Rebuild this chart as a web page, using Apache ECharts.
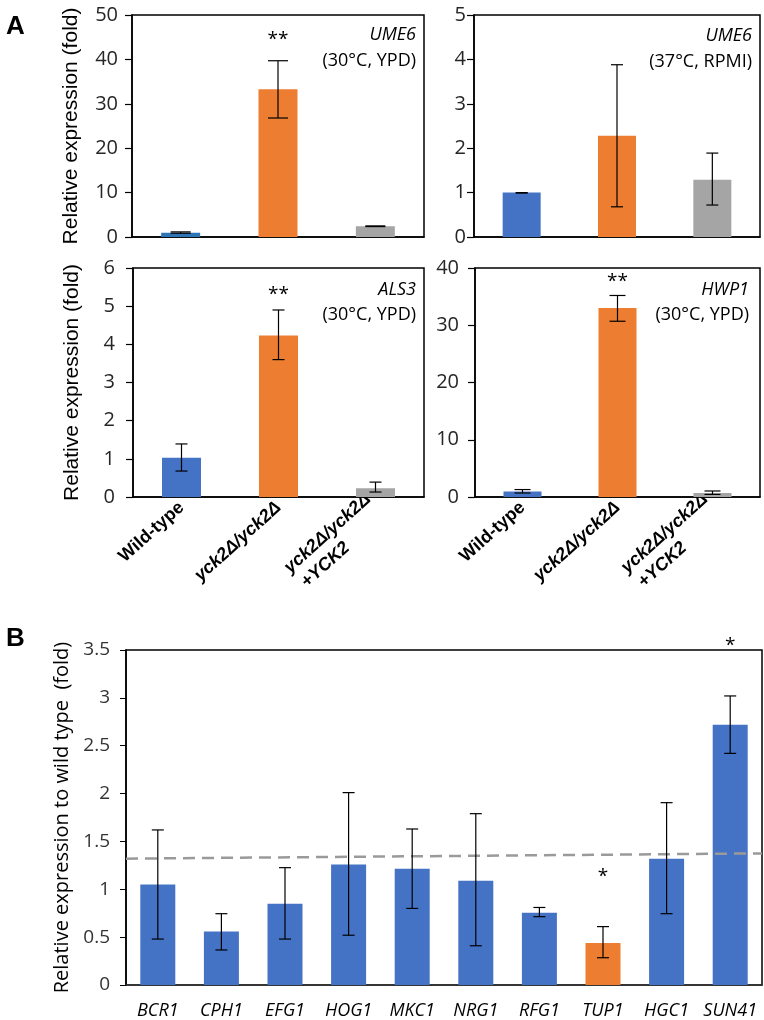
<!DOCTYPE html>
<html>
<head>
<meta charset="utf-8">
<script src="https://cdn.jsdelivr.net/npm/echarts@6/dist/echarts.min.js"></script>
<style>
html,body{margin:0;padding:0;background:#fff;}
#main{width:764px;height:1020px;}
</style>
</head>
<body>
<div id="main"></div>
<script>
// ---------- Panel A data ----------
const strains = ['Wild-type', 'yck2Δ/yck2Δ', 'yck2Δ/yck2Δ\n+YCK2'];
const strainColors = ['#4472C4', '#ED7D31', '#A5A5A5'];

// UME6 (30°C, YPD)
const ume6YpdMean = [0.95, 33.3, 2.4];
const ume6YpdLow  = [0.85, 26.8, 2.35];
const ume6YpdHigh = [1.15, 39.7, 2.5];
const ume6YpdSig  = ['', '**', ''];

// UME6 (37°C, RPMI)
const ume6RpmiMean = [1.0, 2.28, 1.29];
const ume6RpmiLow  = [0.99, 0.68, 0.72];
const ume6RpmiHigh = [1.0, 3.88, 1.89];
const ume6RpmiSig  = ['', '', ''];

// ALS3 (30°C, YPD)
const als3Mean = [1.03, 4.23, 0.23];
const als3Low  = [0.68, 3.6, 0.13];
const als3High = [1.39, 4.9, 0.39];
const als3Sig  = ['', '**', ''];

// HWP1 (30°C, YPD)
const hwp1Mean = [0.95, 33.0, 0.7];
const hwp1Low  = [0.7, 30.7, 0.45];
const hwp1High = [1.3, 35.2, 1.05];
const hwp1Sig  = ['', '**', ''];

const yTicksA = [
  {max: 50, interval: 10},
  {max: 5, interval: 1},
  {max: 6, interval: 1},
  {max: 40, interval: 10}
];

// ---------- Panel B data ----------
const genes = ['BCR1','CPH1','EFG1','HOG1','MKC1','NRG1','RFG1','TUP1','HGC1','SUN41'];
const geneMean = [1.05, 0.56, 0.85, 1.26, 1.215, 1.09, 0.755, 0.44, 1.32, 2.72];
const geneLow  = [0.48, 0.366, 0.48, 0.52, 0.80, 0.41, 0.714, 0.285, 0.745, 2.42];
const geneHigh = [1.62, 0.745, 1.226, 2.01, 1.63, 1.79, 0.81, 0.61, 1.905, 3.02];
const geneSig  = ['', '', '', '', '', '', '', '*', '', '*'];
const geneColorKey = [0,0,0,0,0,0,0,1,0,0]; // 0 = blue, 1 = orange
const thresholdLine = [1.32, 1.375]; // dashed reference line, left → right

const chart = echarts.init(document.getElementById('main'));

const grids = [
  {left: 132, right: 340, top: 15, bottom: 783},
  {left: 474, right: 4, top: 15, bottom: 783},
  {left: 133, right: 340, top: 268, bottom: 523},
  {left: 475, right: 4, top: 268, bottom: 523},
  {left: 126, right: 2, top: 650, bottom: 35}
].map(g => Object.assign({show: true, borderColor: '#000', borderWidth: 1.5, backgroundColor: 'transparent'}, g));

function xCat(gridIndex, showLabels) {
  return {
    type: 'category', gridIndex, data: strains,
    axisTick: {show: false},
    axisLine: {lineStyle: {color: '#000', width: 1.5}},
    axisLabel: showLabels ? {
      show: true, rotate: 42, margin: 8, interval: 0,
      formatter: v => v === strains[0] ? '{n|' + v + '}' :
        v.split('\n').map((s, k) => k === 0 ? '{i|' + s + '}' : '{j|' + s + '}').join('\n'),
      rich: {
        n: {fontFamily: 'Liberation Sans', fontWeight: 'bold', fontSize: 18, color: '#000', lineHeight: 22},
        i: {fontFamily: 'Liberation Sans', fontWeight: 'bold', fontStyle: 'italic', fontSize: 18, color: '#000', lineHeight: 22},
        j: {fontFamily: 'Liberation Sans', fontWeight: 'bold', fontStyle: 'italic', fontSize: 18, color: '#000', lineHeight: 22, padding: [0, 48, 0, 0]}
      }
    } : {show: false}
  };
}

function yVal(gridIndex, t, name, margin) {
  return {
    type: 'value', gridIndex, min: 0, max: t.max, interval: t.interval,
    splitLine: {show: false},
    axisLine: {show: true, lineStyle: {color: '#000', width: 1.5}},
    axisTick: {show: true, length: 7, lineStyle: {color: '#000', width: 1.2}},
    axisLabel: {margin, fontFamily: 'Open Sans', fontSize: 20, color: '#262626'},
    name: name || '', nameLocation: 'middle', nameGap: 50,
    nameTextStyle: {fontFamily: 'Liberation Sans', fontSize: 21, color: '#000'}
  };
}

function bars(gridIndex, mean, colors, width) {
  return {
    type: 'bar', xAxisIndex: gridIndex, yAxisIndex: gridIndex, barWidth: width, z: 2,
    data: mean.map((v, i) => ({value: v, itemStyle: {color: colors[i]}})),
    silent: true, animation: false
  };
}

function errBars(xIdx, yIdx, low, high, sig, capHalf, sigOffset, sigSize) {
  return {
    type: 'custom', xAxisIndex: xIdx, yAxisIndex: yIdx, animation: false, silent: true, z: 10,
    encode: {x: 0, y: [1, 2]},
    data: low.map((l, i) => [i, l, high[i]]),
    renderItem: function (params, api) {
      const i = api.value(0);
      const lo = api.coord([i, api.value(1)]);
      const hi = api.coord([i, api.value(2)]);
      const x = hi[0];
      const st = {stroke: '#000', lineWidth: 1.2};
      const ch = [
        {type: 'line', shape: {x1: x, y1: hi[1], x2: x, y2: lo[1]}, style: st},
        {type: 'line', shape: {x1: x - capHalf, y1: hi[1], x2: x + capHalf, y2: hi[1]}, style: st},
        {type: 'line', shape: {x1: x - capHalf, y1: lo[1], x2: x + capHalf, y2: lo[1]}, style: st}
      ];
      if (sig[i]) {
        ch.push({type: 'text', x: x, y: hi[1] - sigOffset,
          style: {text: sig[i], align: 'center', verticalAlign: 'middle',
            font: sigSize + 'px "Open Sans"', fill: '#000'}});
      }
      return {type: 'group', children: ch};
    }
  };
}

const option = {
  backgroundColor: '#fff',
  animation: false,
  grid: grids,
  xAxis: [
    xCat(0, false), xCat(1, false), xCat(2, true), xCat(3, true),
    {
      type: 'category', gridIndex: 4, data: genes,
      axisTick: {show: false},
      axisLine: {lineStyle: {color: '#333', width: 1.5}},
      axisLabel: {margin: 17, interval: 0, fontFamily: 'Open Sans', fontStyle: 'italic', fontSize: 18, color: '#000'}
    },
    {type: 'value', gridIndex: 4, min: 0, max: 1, show: false}
  ],
  yAxis: [
    yVal(0, yTicksA[0], 'Relative expression (fold)', 14),
    yVal(1, yTicksA[1], '', 8),
    yVal(2, yTicksA[2], 'Relative expression (fold)', 18),
    yVal(3, yTicksA[3], '', 16),
    {
      type: 'value', gridIndex: 4, min: 0, max: 3.5, interval: 0.5,
      splitLine: {show: false},
      axisLine: {show: true, lineStyle: {color: '#000', width: 1.5}},
      axisTick: {show: true, length: 6, lineStyle: {color: '#000'}},
      axisLabel: {margin: 16, fontFamily: 'Open Sans', fontSize: 19, color: '#333'},
      name: 'Relative expression to wild type  (fold)', nameLocation: 'middle', nameGap: 40,
      nameTextStyle: {fontFamily: 'Open Sans', fontSize: 20, color: '#000'}
    }
  ],
  series: [
    bars(0, ume6YpdMean, ['#2E75B6', strainColors[1], strainColors[2]], 39),
    errBars(0, 0, ume6YpdLow, ume6YpdHigh, ume6YpdSig, 10, 21, 19),
    bars(1, ume6RpmiMean, strainColors, 38),
    errBars(1, 1, ume6RpmiLow, ume6RpmiHigh, ume6RpmiSig, 6, 20, 19),
    bars(2, als3Mean, strainColors, 39),
    errBars(2, 2, als3Low, als3High, als3Sig, 6, 15, 19),
    bars(3, hwp1Mean, strainColors, 38),
    errBars(3, 3, hwp1Low, hwp1High, hwp1Sig, 8, 14, 19),
    bars(4, geneMean, geneColorKey.map(k => k ? '#ED7D31' : '#4472C4'), 35),
    errBars(4, 4, geneLow, geneHigh, geneSig, 6, 50, 19),
    {
      type: 'line', xAxisIndex: 5, yAxisIndex: 4, symbol: 'none', silent: true, z: 5,
      data: thresholdLine.map((v, i) => [i, v]),
      lineStyle: {color: '#9a9a9a', width: 2.5, type: [12, 7]}
    }
  ],
  graphic: [
    {type: 'text', left: 6, top: 14, style: {text: 'A', font: 'bold 26px "Liberation Sans"', fill: '#000'}},
    {type: 'text', left: 6, top: 626, style: {text: 'B', font: 'bold 26px "Liberation Sans"', fill: '#000'}},
    {type: 'text', x: 416, y: 35, style: {text: 'UME6', align: 'right', verticalAlign: 'middle', font: 'italic 18px "Open Sans"', fill: '#000'}},
    {type: 'text', x: 416, y: 61, style: {text: '(30°C, YPD)', align: 'right', verticalAlign: 'middle', font: '18px "Open Sans"', fill: '#000'}},
    {type: 'text', x: 752, y: 36, style: {text: 'UME6', align: 'right', verticalAlign: 'middle', font: 'italic 18px "Open Sans"', fill: '#000'}},
    {type: 'text', x: 752, y: 62, style: {text: '(37°C, RPMI)', align: 'right', verticalAlign: 'middle', font: '18px "Open Sans"', fill: '#000'}},
    {type: 'text', x: 416, y: 290, style: {text: 'ALS3', align: 'right', verticalAlign: 'middle', font: 'italic 18px "Open Sans"', fill: '#000'}},
    {type: 'text', x: 416, y: 315, style: {text: '(30°C, YPD)', align: 'right', verticalAlign: 'middle', font: '18px "Open Sans"', fill: '#000'}},
    {type: 'text', x: 749, y: 290, style: {text: 'HWP1', align: 'right', verticalAlign: 'middle', font: 'italic 18px "Open Sans"', fill: '#000'}},
    {type: 'text', x: 749, y: 315, style: {text: '(30°C, YPD)', align: 'right', verticalAlign: 'middle', font: '18px "Open Sans"', fill: '#000'}}
  ]
};
chart.setOption(option);
</script>
</body>
</html>
